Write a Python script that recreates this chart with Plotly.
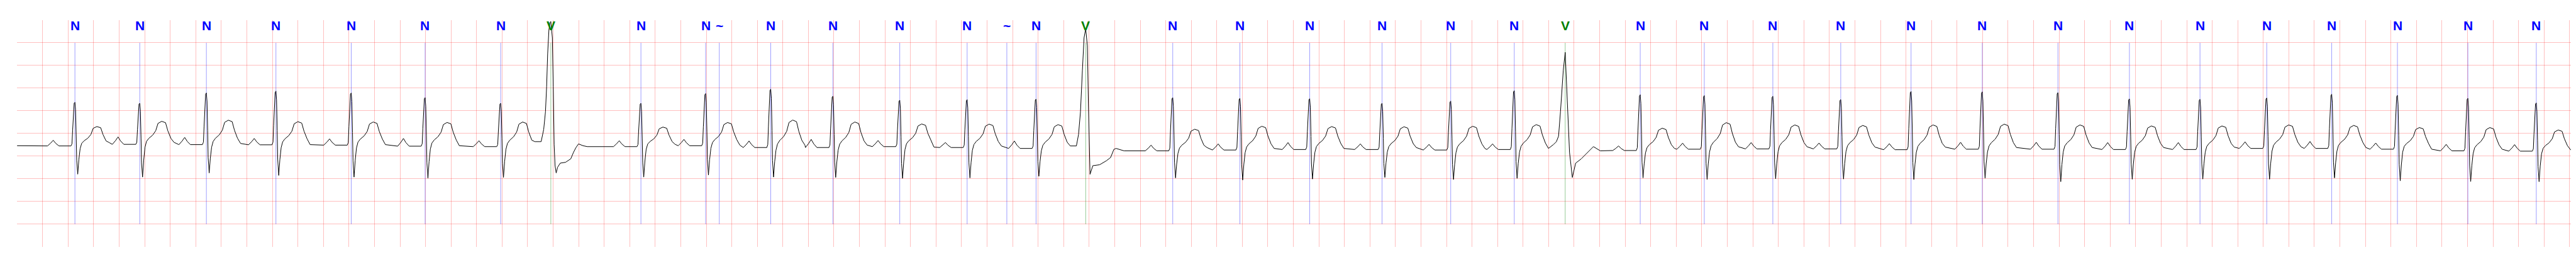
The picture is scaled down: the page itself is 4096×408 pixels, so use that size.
import plotly.graph_objects as go

# ---- annotations (time in s, label) ----
ann_time = [0.453, 0.961, 1.483, 2.028, 2.618, 3.197, 3.789, 4.182, 4.888, 5.395,
            5.502, 5.905, 6.392, 6.916, 7.444, 7.755, 7.984, 8.373, 9.055, 9.581,
            10.128, 10.695, 11.233, 11.731, 12.130, 12.718, 13.220, 13.757, 14.289, 14.840,
            15.398, 15.991, 16.551, 17.104, 17.627, 18.136, 18.651, 19.203, 19.739]
ann_label = ['N', 'N', 'N', 'N', 'N', 'N', 'N', 'V', 'N', 'N',
             '~', 'N', 'N', 'N', 'N', '~', 'N', 'V', 'N', 'N',
             'N', 'N', 'N', 'N', 'V', 'N', 'N', 'N', 'N', 'N',
             'N', 'N', 'N', 'N', 'N', 'N', 'N', 'N', 'N']

# ---- normal beats (mV), in order ----
n_p = [-0.15, -0.076, -0.087, -0.11, -0.12, -0.11, -0.16, -0.16, -0.13, -0.166,
       -0.13, -0.155, -0.20, -0.166, -0.257, -0.23, -0.20, -0.23, -0.24, -0.23,
       -0.275, -0.213, -0.20, -0.21, -0.224, -0.195, -0.195, -0.20, -0.20, -0.184,
       -0.177, -0.21, -0.24, -0.246]
n_pre = [-0.275, -0.24, -0.246, -0.25, -0.257, -0.28, -0.29, -0.29, -0.27, -0.31,
         -0.31, -0.29, -0.31, -0.33, -0.383, -0.365, -0.354, -0.354, -0.365, -0.354,
         -0.376, -0.347, -0.34, -0.34, -0.358, -0.347, -0.347, -0.354, -0.354, -0.33,
         -0.33, -0.347, -0.383, -0.39]
n_r = [0.687, 0.665, 0.893, 0.933, 0.893, 0.79, 0.665, 0.665, 0.879, 0.976,
       0.82, 0.734, 0.745, 0.756, 0.79, 0.774, 0.766, 0.665, 0.712, 0.944,
       0.853, 0.835, 0.82, 0.748, 0.925, 0.918, 0.90, 0.763, 0.752, 0.781,
       0.864, 0.839, 0.774, 0.672]
n_s = [-0.897, -0.962, -0.871, -0.925, -0.962, -0.987, -0.969, -0.962, -0.918, -0.962,
       -0.969, -0.99, -0.98, -0.944, -0.98, -1.027, -1.005, -0.969, -1.016, -0.99,
       -0.98, -1.016, -0.998, -1.005, -1.016, -0.987, -1.063, -1.009, -1.005, -1.009,
       -0.98, -1.045, -1.06, -1.063]
n_t = [0.152, 0.268, 0.293, 0.26, 0.253, 0.243, 0.253, 0.141, 0.242, 0.296,
       0.253, 0.21, 0.206, 0.195, 0.094, 0.159, 0.152, 0.148, 0.159, 0.195,
       0.116, 0.239, 0.188, 0.177, 0.188, 0.206, 0.188, 0.166, 0.166, 0.188,
       0.177, 0.13, 0.13, 0.076]
n_post = [-0.20, -0.195, -0.22, -0.246, -0.246, -0.27, -0.18, -0.24, -0.257, -0.257,
          -0.255, -0.30, -0.275, -0.275, -0.31, -0.33, -0.33, -0.31, -0.33, -0.33,
          -0.33, -0.293, -0.293, -0.30, -0.30, -0.31, -0.31, -0.31, -0.30, -0.293,
          -0.31, -0.347, -0.347, -0.358]

# ---- ventricular beats: points read around each V mark (s offset, mV) ----
v1_dt = [-0.076, -0.056, -0.042, -0.033, -0.025, -0.015, -0.006, 0.0, 0.012, 0.019, 0.026,
         0.033, 0.042, 0.053, 0.074, 0.115, 0.156, 0.177, 0.197, 0.217, 0.252, 0.286]
v1_mv = [-0.18, 0.087, 0.48, 1.03, 1.75, 2.29, 2.45, 2.47, 2.11, 1.03, -0.24,
         -0.71, -0.87, -0.745, -0.654, -0.636, -0.56, -0.42, -0.31, -0.23, -0.27, -0.29]
v2_dt = [-0.073, -0.056, -0.041, -0.026, -0.013, 0.0, 0.013, 0.021, 0.028, 0.034,
         0.056, 0.109, 0.163, 0.195, 0.221, 0.238, 0.30]
v2_mv = [-0.275, -0.02, 0.48, 1.39, 2.11, 2.31, 1.93, 0.665, -0.42, -0.90,
         -0.71, -0.69, -0.60, -0.53, -0.35, -0.33, -0.383]
v3_dt = [-0.131, -0.09, -0.069, -0.052, -0.037, -0.015, 0.0, 0.017, 0.034, 0.056,
         0.082, 0.124, 0.150, 0.178, 0.221, 0.275]
v3_mv = [-0.33, -0.24, -0.18, -0.06, 0.48, 1.39, 1.79, 0.665, -0.42, -0.97,
         -0.654, -0.564, -0.49, -0.40, -0.29, -0.383]

trace_start = -0.27
trace_end = -0.358
t_end = 20.06

# ---- build the trace from the readings ----
xs = [0.0]
ys = [trace_start]
v_beats = [(v1_dt, v1_mv), (v2_dt, v2_mv), (v3_dt, v3_mv)]
ni = 0
vi = 0
for t0, lab in zip(ann_time, ann_label):
    if lab == 'N':
        P, pre, R, S, T, post = n_p[ni], n_pre[ni], n_r[ni], n_s[ni], n_t[ni], n_post[ni]
        h = T - pre
        pts = [(-0.215, pre), (-0.19, pre + 0.5 * (P - pre)), (-0.17, P),
               (-0.15, pre + 0.45 * (P - pre)), (-0.125, pre),
               (-0.031, pre), (-0.023, pre + 0.05 * (R - pre)), (-0.018, pre + 0.36 * (R - pre)),
               (-0.012, pre + 0.78 * (R - pre)), (-0.006, pre + 0.98 * (R - pre)), (0.0, R),
               (0.005, R - 0.105 * (R - S)), (0.010, R - 0.47 * (R - S)),
               (0.014, R - 0.81 * (R - S)), (0.022, S),
               (0.026, S + 0.29 * (pre - S)), (0.031, S + 0.52 * (pre - S)),
               (0.041, S + 0.91 * (pre - S)),
               (0.053, pre + 0.13 * h), (0.071, pre + 0.26 * h), (0.101, pre + 0.40 * h),
               (0.125, pre + 0.59 * h), (0.143, pre + 0.91 * h), (0.172, T),
               (0.202, pre + 0.94 * h), (0.220, pre + 0.59 * h), (0.244, pre + 0.26 * h),
               (0.268, post)]
        ni += 1
    elif lab == 'V':
        dts, mvs = v_beats[vi]
        pts = list(zip(dts, mvs))
        vi += 1
    else:
        continue
    for dt, v in pts:
        xs.append(t0 + dt)
        ys.append(v)
xs.append(t_end)
ys.append(trace_end)

fig = go.Figure()
fig.add_trace(go.Scatter(x=xs, y=ys, mode='lines',
                         line=dict(color='black', width=1), hoverinfo='skip',
                         showlegend=False))

shapes = []
annotations = []
for t0, lab in zip(ann_time, ann_label):
    col = 'rgba(0,128,0,0.6)' if lab == 'V' else 'rgba(0,0,255,0.55)'
    tcol = 'green' if lab == 'V' else 'blue'
    shapes.append(dict(type='line', xref='x', yref='y', x0=t0, x1=t0, y0=-2.0, y1=2.0,
                       line=dict(color=col, width=0.7), layer='between'))
    annotations.append(dict(x=t0, y=1, xref='x', yref='paper', text=lab, showarrow=False,
                            xanchor='center', yanchor='top', yshift=5,
                            font=dict(family='Liberation Sans Narrow, Liberation Sans, Arial, sans-serif',
                                      size=21, color=tcol, weight='bold')))

fig.update_layout(
    width=4096, height=408,
    margin=dict(l=19, r=6, t=24, b=24),
    paper_bgcolor='white', plot_bgcolor='white',
    shapes=shapes, annotations=annotations,
    showlegend=False,
)
fig.update_xaxes(range=[-0.001, t_end], tick0=0, dtick=0.2, showgrid=True,
                 gridcolor='rgba(255,0,0,0.25)', gridwidth=1, zeroline=False,
                 showline=False, showticklabels=False, ticks='')
fig.update_yaxes(range=[-2.502, 2.499], tick0=0, dtick=0.5, showgrid=True,
                 gridcolor='rgba(255,0,0,0.25)', gridwidth=1, zeroline=False,
                 showline=False, showticklabels=False, ticks='')

fig.write_html('out.html')
